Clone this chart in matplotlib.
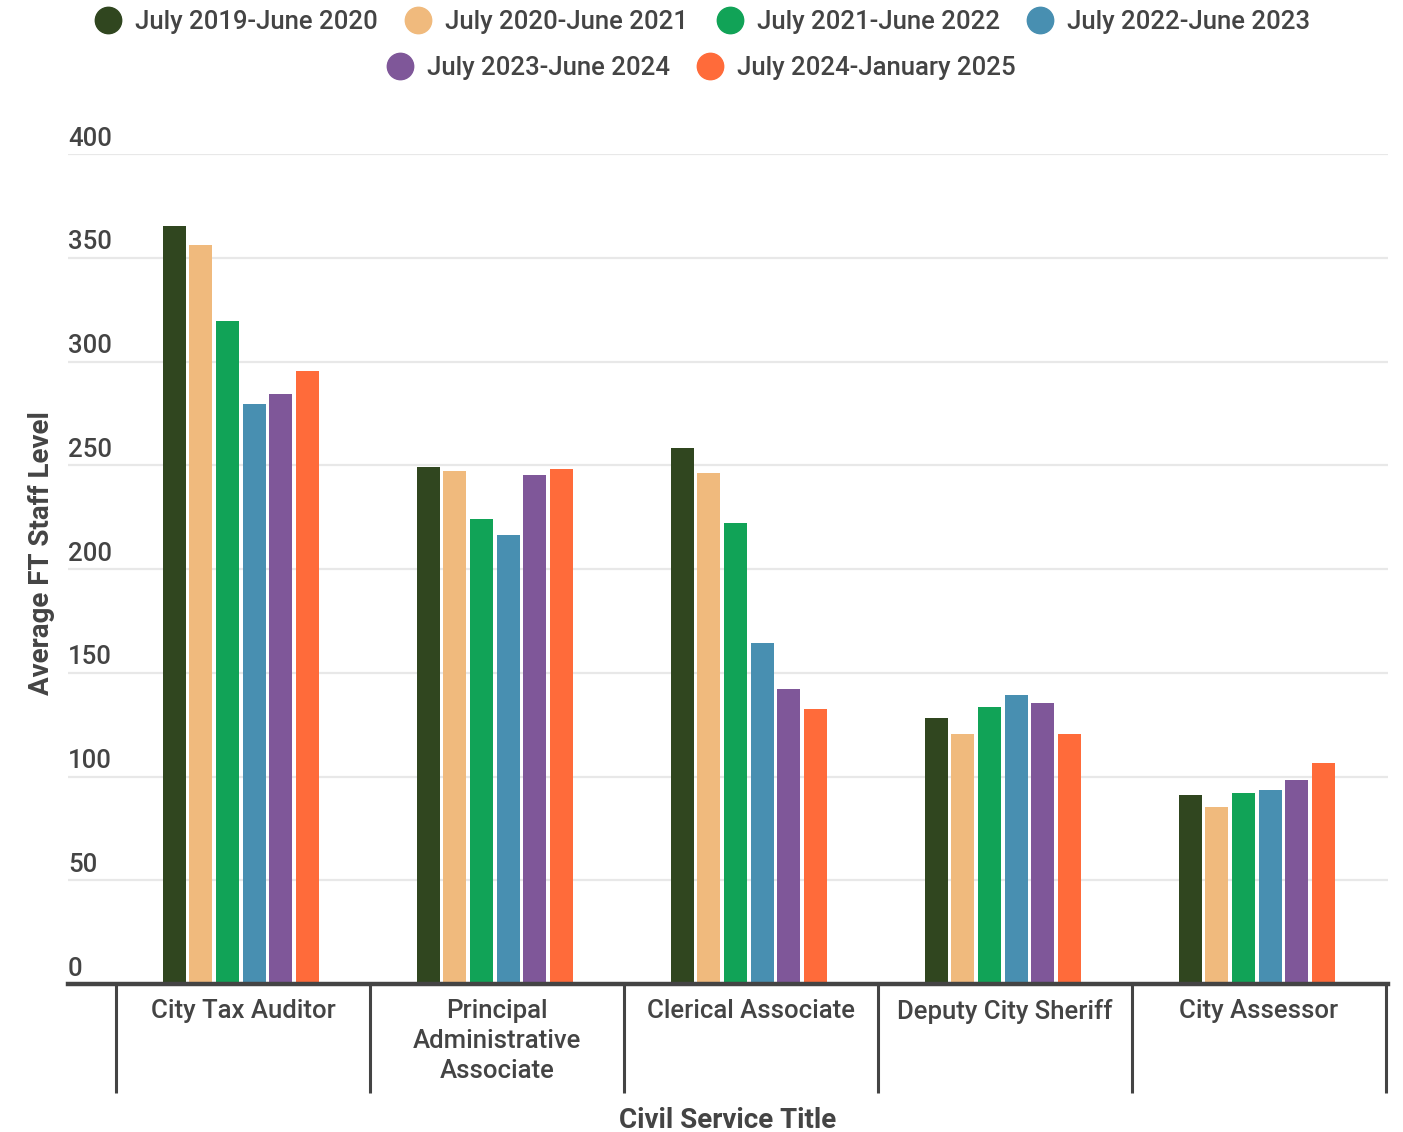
import matplotlib
matplotlib.use("Agg")
import matplotlib.pyplot as plt
import numpy as np
from matplotlib.lines import Line2D
from matplotlib.transforms import blended_transform_factory

plt.rcParams["font.family"] = ["Roboto", "DejaVu Sans"]

titles = [
    "City Tax Auditor",
    "Principal\nAdministrative\nAssociate",
    "Clerical Associate",
    "Deputy City Sheriff",
    "City Assessor",
]
periods = [
    "July 2019-June 2020",
    "July 2020-June 2021",
    "July 2021-June 2022",
    "July 2022-June 2023",
    "July 2023-June 2024",
    "July 2024-January 2025",
]
fy2020 = [365.3, 249.2, 258.3, 128.2, 91.1]
fy2021 = [356.1, 247.2, 246.3, 120.5, 85.3]
fy2022 = [319.5, 224.1, 222.2, 133.5, 92.0]
fy2023 = [279.5, 216.4, 164.3, 139.3, 93.5]
fy2024 = [284.3, 245.3, 142.2, 135.4, 98.3]
fy2025 = [295.4, 248.2, 132.5, 120.5, 106.5]
series = [fy2020, fy2021, fy2022, fy2023, fy2024, fy2025]
colors = ["#30461F", "#F0BA7D", "#11A357", "#488FB1", "#7F5799", "#FF6B3A"]
yticks = [0, 50, 100, 150, 200, 250, 300, 350, 400]

text_color = "#444444"
label_font = dict(fontsize=18.5, fontweight=500, color=text_color)
W, H = 1403, 1132
fig = plt.figure(figsize=(W / 100, H / 100), dpi=100)
ax = fig.add_axes([68 / W, (H - 984) / H, (1388 - 68) / W, (984 - 154) / H])

x = np.arange(len(titles))
pitch = 0.105
width = 0.0906
for k, (vals, col) in enumerate(zip(series, colors)):
    ax.bar(x - 0.008 + (k - 2.5) * pitch, vals, width=width, color=col, zorder=3)

ax.set_xlim(-0.689, 4.508)
ax.set_ylim(0, 400)
for s in ax.spines.values():
    s.set_visible(False)
ax.set_xticks([])
ax.set_yticks([])

# gridlines with labels sitting above them
ytrans = ax.get_yaxis_transform()
for v in yticks:
    if v > 0:
        ax.axhline(v, color="#e8e8e8", lw=1.6, zorder=1)
    ax.annotate(str(v), xy=(0, v), xycoords=ytrans, xytext=(0, 6),
                textcoords="offset points", ha="left", va="baseline",
                **label_font)

# baseline and category separators
ax.axhline(0, color=text_color, lw=3.2, zorder=4, clip_on=False)
for b in np.arange(len(titles) + 1) - 0.5:
    ax.plot([b, b], [0, -52.5], color=text_color, lw=2.2, clip_on=False,
            solid_capstyle="butt")

xtrans = blended_transform_factory(ax.transData, ax.transAxes)
for i, t in enumerate(titles):
    ax.annotate(t, xy=(i, 0), xycoords=xtrans, xytext=(0, -10.5),
                textcoords="offset points", ha="center", va="top",
                linespacing=1.32, **label_font)

fig.text(728 / W, 1 - 1120 / H, "Civil Service Title", ha="center",
         va="center", fontsize=20, fontweight="bold", color=text_color)
fig.text(42 / W, 1 - 553 / H, "Average FT Staff Level", ha="center",
         va="center", rotation=90, fontsize=20, fontweight="bold",
         color=text_color)

# legend rows, centred above the plot
legend_rows = [
    ([0, 1, 2, 3], [108, 418, 730, 1040], 20),
    ([4, 5], [400, 710], 66),
]
for idx, xs, ypx in legend_rows:
    for k, xp in zip(idx, xs):
        fig.add_artist(Line2D([xp / W], [1 - ypx / H], marker="o",
                              markersize=19, color=colors[k], lw=0,
                              transform=fig.transFigure))
        fig.text((xp + 27) / W, 1 - ypx / H, periods[k], ha="left",
                 va="center_baseline", **label_font)

fig.savefig("out.png", dpi=100, facecolor="white")
